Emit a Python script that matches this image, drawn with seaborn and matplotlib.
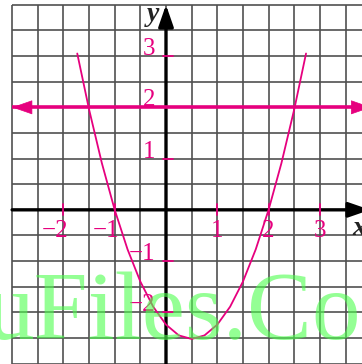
import numpy as np
import pandas as pd
import matplotlib
matplotlib.use("Agg")
import matplotlib.pyplot as plt
import seaborn as sns

# ---- data ----
curve_x = [-1.73, -1.5, -1.25, -1.0, -0.75, -0.5, -0.25, 0.0, 0.25, 0.5,
           0.75, 1.0, 1.25, 1.5, 1.75, 2.0, 2.25, 2.5, 2.73]
curve_y = [3.05, 1.96, 0.91, 0.0, -0.77, -1.40, -1.89, -2.24, -2.45, -2.52,
           -2.45, -2.24, -1.89, -1.40, -0.77, 0.0, 0.91, 1.96, 3.05]
line_x = [-3.0, 4.0]
line_y = [2.0, 2.0]
x_ticks = [-2, -1, 1, 2, 3]
x_tick_labels = ["\u22122", "\u22121", "1", "2", "3"]
y_ticks = [-2, -1, 1, 2, 3]
y_tick_labels = ["\u22122", "\u22121", "1", "2", "3"]
watermark = "uFiles.Com"

MAG = "#e6007e"
GRID = "#505050"
SERIF = ["Liberation Serif", "DejaVu Serif"]

sns.set_style("white")
fig = plt.figure(figsize=(3.62, 3.64), dpi=100)
ax = fig.add_axes([0, 0, 1, 1])
ax.set_xlim(-3.236, 3.821)
ax.set_ylim(-3.008, 4.094)
ax.axis("off")

# grid squares (half-unit)
gx = np.arange(-3.0, 3.51, 0.5)
gy = np.arange(-3.0, 4.01, 0.5)
ax.vlines(gx, -3.0, 4.0, colors=GRID, lw=1.2, zorder=1)
ax.hlines(gy, -3.0, 3.9, colors=GRID, lw=1.2, zorder=1)

# axes with arrows
axis_style = "-|>,head_length=1.3,head_width=0.45"
ax.annotate("", xy=(3.98, 0), xytext=(-3.0, 0), annotation_clip=False,
            arrowprops=dict(arrowstyle=axis_style, lw=2.4, color="black",
                            shrinkA=0, shrinkB=0), zorder=3)
ax.annotate("", xy=(0, 4.0), xytext=(0, -3.05), annotation_clip=False,
            arrowprops=dict(arrowstyle=axis_style, lw=2.4, color="black",
                            shrinkA=0, shrinkB=0), zorder=3)

# horizontal line y = 2 with arrows at both ends
df_line = pd.DataFrame({"x": line_x, "y": line_y})
sns.lineplot(data=df_line, x="x", y="y", ax=ax, color=MAG, lw=2.6,
             solid_capstyle="butt", zorder=4)
arr_style = "-|>,head_length=1.35,head_width=0.47"
for tip, back in [(line_x[0], line_x[0] + 0.4), (line_x[1], line_x[1] - 0.4)]:
    ax.annotate("", xy=(tip, line_y[0]), xytext=(back, line_y[0]),
                annotation_clip=False,
                arrowprops=dict(arrowstyle=arr_style, lw=0.5, color=MAG,
                                shrinkA=0, shrinkB=0), zorder=5)

# parabola
df_curve = pd.DataFrame({"x": curve_x, "y": curve_y})
sns.lineplot(data=df_curve, x="x", y="y", ax=ax, color=MAG, lw=1.3,
             sort=False, zorder=4)

# tick marks and labels
FS = 18
for xv, lab in zip(x_ticks, x_tick_labels):
    ax.plot([xv, xv], [-0.11, 0.12], color=MAG, lw=1.3, zorder=4)
    if lab.startswith("\u2212"):
        ax.text(xv + 0.1, -0.2, lab, ha="right", va="top", color=MAG,
                fontsize=FS, family=SERIF, zorder=4)
    else:
        ax.text(xv, -0.2, lab, ha="center", va="top", color=MAG,
                fontsize=FS, family=SERIF, zorder=4)
for yv, lab in zip(y_ticks, y_tick_labels):
    ax.plot([-0.05, 0.14], [yv, yv], color=MAG, lw=1.3, zorder=4)
    ax.text(-0.2, yv + 0.02, lab, ha="right", va="baseline", color=MAG,
            fontsize=FS, family=SERIF, zorder=4)

# axis names
ax.text(-0.14, 3.68, "y", ha="right", va="baseline", color="#222222",
        fontsize=20, family=SERIF, style="italic", weight="bold", zorder=4)
ax.text(3.63, -0.5, "x", ha="left", va="baseline", color="#222222",
        fontsize=20, family=SERIF, style="italic", weight="bold", zorder=4)

# watermark
ax.text(-0.04, 0.069, watermark, transform=ax.transAxes, ha="left",
        va="baseline", fontsize=70, family=SERIF, color=(0.3, 1.0, 0.3),
        alpha=0.6, zorder=10)

fig.savefig("out.png", dpi=100)
